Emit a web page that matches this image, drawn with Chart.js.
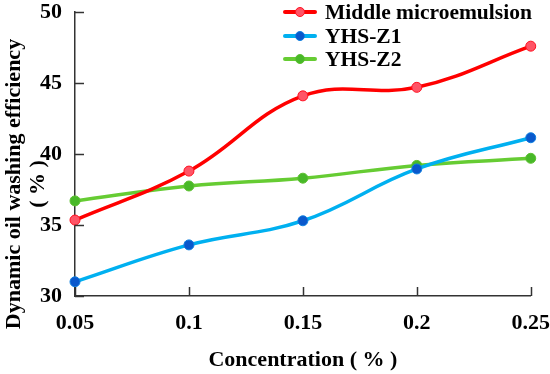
<!DOCTYPE html>
<html>
<head>
<meta charset="utf-8">
<script src="https://cdn.jsdelivr.net/npm/chart.js@4.4.1/dist/chart.umd.min.js"></script>
<style>
  html, body { margin: 0; padding: 0; background: #fff; }
  #wrap { position: relative; width: 550px; height: 374px; }
  #legend { position: absolute; left: 0; top: 0; font: bold 21.5px "Liberation Serif", "Times New Roman", serif; color: #000; }
  .row { position: absolute; left: 283px; height: 24px; white-space: nowrap; }
  .row .ln { position: absolute; left: 0; top: 10px; width: 34px; height: 4px; border-radius: 2px; }
  .row .dot { position: absolute; left: 12px; top: 7px; width: 10px; height: 10px; border-radius: 50%; box-sizing: border-box; border: 1.5px solid; }
  .row .tx { position: absolute; left: 42px; top: 0; line-height: 24px; }
</style>
</head>
<body>
<div id="wrap">
  <canvas id="myChart" width="550" height="374"></canvas>
  <div id="legend"></div>
</div>
<script>
// data
var categories = ['0.05', '0.1', '0.15', '0.2', '0.25'];
var middleMicro = [35.35, 38.8, 44.1, 44.7, 47.6];
var yhsZ1 = [31.0, 33.6, 35.3, 38.95, 41.15];
var yhsZ2 = [36.7, 37.75, 38.3, 39.2, 39.7];
var yTicks = [30, 35, 40, 45, 50];

var fontFam = '"Liberation Serif", "Times New Roman", serif';

var series = [
    { label: 'Middle microemulsion', data: middleMicro, line: '#ff0000', point: '#ff5466', edge: '#ff1020' },
    { label: 'YHS-Z1', data: yhsZ1, line: '#00b0f0', point: '#0a58cc', edge: '#1080e0' },
    { label: 'YHS-Z2', data: yhsZ2, line: '#66cc33', point: '#48b828', edge: '#5cc030' }
];

// ticks drawn inward + rotated two line y title
var extras = {
    id: 'extras',
    afterDraw: function(chart) {
        var c = chart.ctx;
        var xs = chart.scales.x, ys = chart.scales.y;
        c.save();
        c.strokeStyle = '#333';
        c.lineWidth = 1.5;
        yTicks.forEach(function(v) {
            var py = Math.round(ys.getPixelForValue(v)) + 0.5;
            c.beginPath();
            c.moveTo(ys.right, py);
            c.lineTo(ys.right + 9, py);
            c.stroke();
        });
        categories.forEach(function(cat, i) {
            var px = Math.round(xs.getPixelForValue(i)) + 0.5;
            c.beginPath();
            c.moveTo(px, xs.top);
            c.lineTo(px, xs.top - 9);
            c.stroke();
        });
        c.fillStyle = '#000';
        c.font = 'bold 22px ' + fontFam;
        c.textAlign = 'center';
        c.textBaseline = 'middle';
        c.translate(14, 184);
        c.rotate(-Math.PI / 2);
        c.fillText('Dynamic oil washing efficiency', 0, 0);
        c.fillText('( % )', 0, 24);
        c.restore();
    }
};

var ctx = document.getElementById('myChart').getContext('2d');
var myChart = new Chart(ctx, {
    type: 'line',
    data: {
        labels: categories,
        datasets: series.map(function(s) {
            return {
                label: s.label,
                data: s.data,
                borderColor: s.line,
                borderWidth: 3.5,
                tension: 0.4,
                pointRadius: 5,
                pointBackgroundColor: s.point,
                pointBorderColor: s.edge,
                pointBorderWidth: 1
            };
        })
    },
    options: {
        responsive: false,
        animation: false,
        layout: { padding: { top: 0, left: 0, bottom: 0, right: 2 } },
        plugins: {
            legend: { display: false },
            tooltip: { enabled: false }
        },
        scales: {
            x: {
                offset: false,
                // outside ticks hidden, only used as label spacing
                grid: { drawOnChartArea: false, drawTicks: true, tickLength: 14, tickColor: 'rgba(0,0,0,0)' },
                border: { color: '#333', width: 1.5 },
                ticks: { color: '#000', padding: 0, font: { family: fontFam, size: 22, weight: 'bold' } },
                title: {
                    display: true,
                    text: 'Concentration ( % )',
                    color: '#000',
                    padding: { top: 0, bottom: 0 },
                    font: { family: fontFam, size: 22, weight: 'bold' }
                },
                afterFit: function(scale) { scale.height = 78; }
            },
            y: {
                min: 30,
                max: 50,
                grid: { drawOnChartArea: false, drawTicks: true, tickLength: 13, tickColor: 'rgba(0,0,0,0)' },
                border: { color: '#333', width: 1.5 },
                ticks: {
                    stepSize: 5,
                    color: '#000',
                    padding: 0,
                    font: { family: fontFam, size: 22, weight: 'bold', lineHeight: 1.1 }
                },
                afterFit: function(scale) { scale.width = 75; }
            }
        }
    },
    plugins: [extras]
});

// legend as html
var lg = document.getElementById('legend');
series.forEach(function(s, i) {
    var row = document.createElement('div');
    row.className = 'row';
    row.style.top = (i * 23.7) + 'px';
    row.innerHTML = '<div class="ln" style="background:' + s.line + '"></div>' +
        '<div class="dot" style="background:' + s.point + ';border-color:' + s.edge + '"></div>' +
        '<div class="tx">' + s.label + '</div>';
    lg.appendChild(row);
});
</script>
</body>
</html>
